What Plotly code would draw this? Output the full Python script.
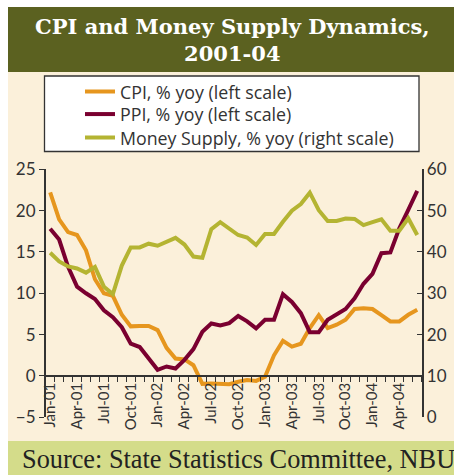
import plotly.graph_objects as go

W, H = 454, 475

# ---- data ----
month_names = ["Jan", "Feb", "Mar", "Apr", "May", "Jun", "Jul", "Aug", "Sep", "Oct", "Nov", "Dec"]
months = [f"{m}-{y:02d}" for y in range(1, 5) for m in month_names][:42]  # Jan-01 .. Jun-04

cpi = [22.2, 18.95, 17.4, 17.05, 15.2, 11.7, 10.0, 9.7, 7.4, 6.0, 6.05, 6.05,
       5.55, 3.4, 2.1, 2.0, 1.3, -0.95, -0.9, -0.95, -1.0, -0.7, -0.5, -0.6,
       -0.1, 2.5, 4.25, 3.55, 3.9, 5.8, 7.35, 5.8, 6.2, 6.8, 8.1, 8.2,
       8.1, 7.35, 6.6, 6.6, 7.4, 8.0]
ppi = [17.8, 16.5, 13.2, 10.8, 10.0, 9.3, 7.95, 7.1, 5.9, 3.9, 3.5, 2.1,
       0.75, 1.15, 0.9, 1.95, 3.25, 5.35, 6.35, 6.1, 6.4, 7.25, 6.6, 5.75,
       6.8, 6.8, 9.9, 8.95, 7.6, 5.3, 5.3, 6.8, 7.45, 8.1, 9.4, 11.15,
       12.35, 14.85, 14.95, 17.85, 20.1, 22.4]
money = [39.8, 37.7, 36.5, 36.0, 35.0, 36.4, 31.6, 29.8, 36.7, 41.1, 41.1, 42.0,
         41.5, 42.4, 43.4, 41.8, 38.9, 38.6, 45.5, 47.2, 45.6, 44.1, 43.5, 41.7,
         44.35, 44.35, 47.3, 50.0, 51.6, 54.35, 50.1, 47.5, 47.5, 48.1, 48.0, 46.5,
         47.2, 47.9, 45.15, 45.15, 48.15, 44.1]

left_ticks = [-5, 0, 5, 10, 15, 20, 25]
right_ticks = [0, 10, 20, 30, 40, 50, 60]
label_idx = list(range(0, 42, 3))
label_text = [months[i] for i in label_idx]

series_names = ["CPI, % yoy (left scale)", "PPI, % yoy (left scale)", "Money Supply, % yoy (right scale)"]
colors = ["#e6961e", "#7a0030", "#b4b432"]

x = list(range(len(months)))

fig = go.Figure()
fig.add_trace(go.Scatter(x=x, y=cpi, name=series_names[0], mode="lines", legend="legend",
                         line=dict(color=colors[0], width=4), yaxis="y"))
fig.add_trace(go.Scatter(x=x, y=ppi, name=series_names[1], mode="lines", legend="legend2",
                         line=dict(color=colors[1], width=4), yaxis="y"))
fig.add_trace(go.Scatter(x=x, y=money, name=series_names[2], mode="lines", legend="legend3",
                         line=dict(color=colors[2], width=4), yaxis="y2"))

# helpers: page pixel -> paper fraction
def px(v):
    return v / W

def py(v):
    return 1 - v / H

x_dom = [px(45.7), px(421.7)]
y_dom = [py(417.3), py(169.3)]
x_pos = py(376)

sans = "Lato, 'Noto Sans', sans-serif"
axis_font = dict(family=sans, size=17, color="#333333")
legend_font = dict(family="'Open Sans', sans-serif", size=17.8, color="#333333")

def legend_at(row_y):
    return dict(x=px(80), y=py(row_y), xanchor="left", yanchor="middle",
                bgcolor="rgba(0,0,0,0)", borderwidth=0, font=legend_font)

shapes = [
    dict(type="rect", xref="paper", yref="paper", x0=px(8), x1=1, y0=py(441), y1=py(72),
         fillcolor="#fbf0da", line=dict(width=0), layer="below"),
    dict(type="rect", xref="paper", yref="paper", x0=px(8), x1=1, y0=py(72), y1=py(7),
         fillcolor="#5b6120", line=dict(width=0), layer="below"),
    dict(type="rect", xref="paper", yref="paper", x0=px(8), x1=1, y0=0, y1=py(441),
         fillcolor="#d4dc8a", line=dict(width=0), layer="below"),
    dict(type="rect", xref="paper", yref="paper", x0=px(44.5), x1=px(419), y0=py(151.5), y1=py(76),
         fillcolor="#ffffff", line=dict(width=1.3, color="#333333"), layer="below"),
]

annotations = [
    dict(text="<b>CPI and Money Supply Dynamics,</b><br><b>2001-04</b>", xref="paper", yref="paper",
         x=px(232), y=py(40), xanchor="center", yanchor="middle", showarrow=False,
         font=dict(family="'DejaVu Serif', serif", size=21, color="#ffffff"),
         align="center"),
    dict(text="Source: State Statistics Committee, NBU", xref="paper", yref="paper",
         x=px(20), y=py(459), xanchor="left", yanchor="middle", showarrow=False,
         font=dict(family="'Liberation Serif', serif", size=26.3, color="#222222")),
]

fig.update_layout(
    width=W, height=H,
    margin=dict(l=0, r=0, t=0, b=0, autoexpand=False),
    paper_bgcolor="#ffffff",
    plot_bgcolor="rgba(0,0,0,0)",
    showlegend=True,
    legend=legend_at(92),
    legend2=legend_at(114.5),
    legend3=legend_at(138),
    xaxis=dict(domain=x_dom, range=[-0.5, len(months) - 0.5], anchor="free", position=x_pos,
               automargin=False,
               tickmode="array", tickvals=label_idx, ticktext=label_text, tickangle=-90,
               ticks="", showgrid=False, zeroline=False,
               showline=True, linecolor="#333333", linewidth=1.5,
               tickfont=dict(family=sans, size=15, color="#333333"),
               minor=dict(tickmode="array", tickvals=[i - 0.5 for i in range(len(months) + 1)],
                          ticks="outside", ticklen=5, tickcolor="#333333", tickwidth=1.2,
                          showgrid=False)),
    yaxis=dict(domain=y_dom, range=[-5, 25], anchor="x", side="left", automargin=False,
               tickmode="array", tickvals=left_ticks, ticks="outside", ticklen=5,
               tickcolor="#333333", tickwidth=1.2,
               showgrid=False, zeroline=False, showline=True, linecolor="#333333", linewidth=1.5,
               tickfont=axis_font),
    yaxis2=dict(domain=y_dom, range=[0, 60], anchor="x", overlaying="y", side="right",
                automargin=False,
                tickmode="array", tickvals=right_ticks, ticks="inside", ticklen=5,
                tickcolor="#333333", tickwidth=1.2,
                showgrid=False, zeroline=False, showline=True, linecolor="#333333", linewidth=1.5,
                tickfont=axis_font),
    shapes=shapes,
    annotations=annotations,
)

fig.write_html("out.html", config={"displayModeBar": False},
               post_script="document.body.style.margin='0';document.body.style.overflow='hidden';")
